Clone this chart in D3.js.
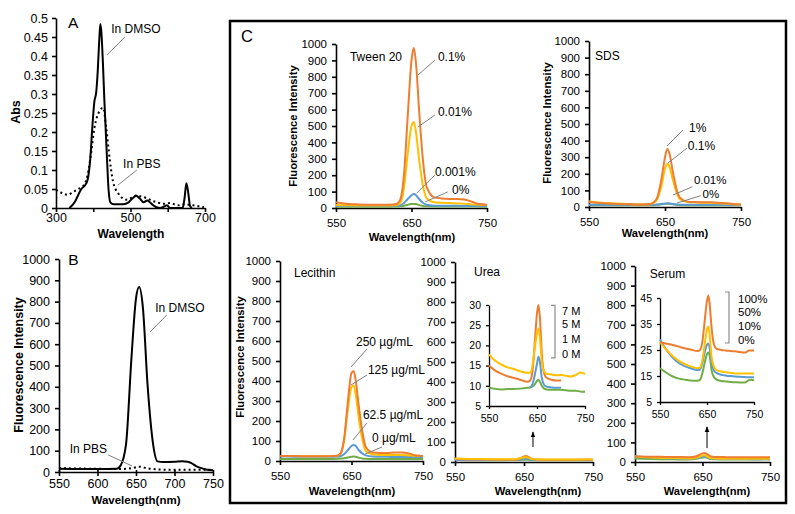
<!DOCTYPE html>
<html><head><meta charset="utf-8">
<script src="https://cdn.jsdelivr.net/npm/d3@7"></script>
<style>body{margin:0;background:#fff}svg{display:block}</style>
</head><body>
<script>
// ================= DATA =================
// Panel A – absorbance
const absWlDMSO = [336,350,360,368,378,385,392,398,403,408,412,416,419,422,426,430,436,441,446,455,480,495,505,515,525,535,545,552,560,570,580,590,598,606,640,645,650,655,660,665];
const absDMSO   = [0,0.015,0.035,0.05,0.06,0.075,0.13,0.22,0.28,0.305,0.36,0.44,0.484,0.46,0.38,0.28,0.15,0.05,0.015,0.01,0.01,0.015,0.025,0.032,0.025,0.015,0.02,0.015,0.008,0.002,0,0.004,0.007,0,0,0.025,0.065,0.04,0.005,0];
const absWlPBS  = [300,315,331,349,360,372,385,395,403,410,417,426,435,444,453,466,489,505,516,530,543,561,575,588,606,628,646,668,697];
const absPBS    = [0.048,0.04,0.035,0.044,0.05,0.057,0.088,0.15,0.21,0.24,0.255,0.264,0.21,0.13,0.07,0.04,0.022,0.028,0.033,0.03,0.026,0.018,0.014,0.011,0.013,0.007,0.01,0.007,0.002];
const absYTicks = [0,0.05,0.1,0.15,0.2,0.25,0.3,0.35,0.4,0.45,0.5];
const absXTicks = [300,400,500,600,700];
const absXLabels = [300,500,700];

// Panel B – fluorescence DMSO vs PBS
const flWlDMSO = [550,600,625,630,637,644,650,654,659,665,672,678,685,700,710,717,722,728,735,741,750];
const flDMSO   = [15,14,15,30,128,530,815,868,770,410,136,50,47,48,50,48,42,28,18,12,8];
const flWlPBS  = [550,600,630,645,654,665,680,700,750];
const flPBS    = [18,15,14,18,25,17,12,10,10];
const flYTicks = [0,100,200,300,400,500,600,700,800,900,1000];
const flBXTicks = [550,600,650,700,750];
const flCXTicks = [550,650,750];

// Panel C – shared wavelength grid for Tween 20, SDS, Lecithin
const wlC = [550,560,580,600,620,630,635,640,645,650,653,656,660,665,670,680,690,700,710,720,730,740,750];
const tween01   = [35,28,22,20,20,25,50,200,560,900,975,880,600,300,130,65,58,55,55,52,38,24,20];
const tween001  = [18,17,16,15,15,18,30,120,330,500,525,460,300,140,60,35,32,30,28,26,22,20,18];
const tween0001 = [12,12,12,12,12,13,16,30,55,78,85,78,55,32,20,14,13,13,13,12,12,12,12];
const tween0    = [8,8,8,8,8,9,10,14,20,24,25,24,18,12,10,9,9,9,9,9,9,8,8];
const sds1   = [30,25,20,17,15,18,28,60,160,300,350,320,220,110,55,32,30,28,28,26,22,18,15];
const sds01  = [35,28,22,18,15,17,24,50,120,230,260,240,170,90,45,30,28,26,25,23,20,17,15];
const sds001 = [14,14,13,13,13,13,14,15,18,20,22,21,18,15,14,13,13,13,13,13,12,12,12];
const sds0   = [10,10,10,10,10,10,11,13,16,19,20,19,16,13,11,10,10,10,10,10,10,10,10];
const lec250 = [25,25,24,24,24,26,40,120,300,440,450,400,280,150,70,42,40,40,42,42,38,28,25];
const lec125 = [25,25,24,24,24,26,38,110,260,370,378,330,220,110,50,32,30,30,30,30,28,26,25];
const lec625 = [22,22,21,21,21,22,25,35,55,75,80,75,55,38,28,22,21,21,20,20,20,20,20];
const lec0   = [10,10,10,10,10,11,12,14,18,21,22,21,17,13,11,10,10,10,10,10,10,10,10];

// Urea & Serum grid
const wlU = [550,560,575,590,600,615,630,635,640,645,650,653,656,660,665,670,680,690,695,700,710,720,730,740,745,750];
const urea7 = [15,14,13,12.3,12,11.5,11,11.2,13,20,28,30,27,18,13,12,11.5,11.3,11.3,11.3,11.2,11.1,11,11,11,11];
const urea5 = [17.8,16.5,15.3,14.5,14.2,13.6,13.2,13.2,14.5,19,23,24.2,22,16,13.5,13,12.8,12.6,12.6,12.7,12.5,12.3,12.6,13.3,13.2,12.9];
const urea1 = [9.5,9.5,9.5,9.5,9.5,9.5,9.5,9.6,10.2,12.5,15.5,17.2,16,12,10.2,9.8,9.6,9.5,9.5,9.5,9.5,9.5,9.5,9.5,9.5,9.5];
const urea0 = [9.5,9.3,9.1,9.2,9.2,9.3,9.5,9.6,9.8,10.3,11.2,11.5,11,10,9.3,9.1,9,9,9,9,8.9,8.8,8.8,8.6,8.5,8.5];
const serum100 = [28,27.6,27,26.3,25.8,25.2,24.6,25,28,36,44,46,42,33,27,25.5,25,24.8,24.7,24.6,24.5,24.2,24,24.8,24.8,24.8];
const serum50  = [28,25.8,23,20.8,19.8,18.7,18,18.2,21,27,33,34,30,22,18.5,17.3,16.7,16.4,16.3,16.2,16,16,16,16,16,16];
const serum10  = [29,26,22.5,20,19,18,17.3,17.5,20,24,27,27.5,25.5,20,17,16.2,15.5,15.2,15,15,14.8,14.7,14.6,14.5,14.5,14.5];
const serum0   = [18,16.7,15,14,13.7,13.3,13.2,13.5,16,20,23.5,24,22.5,17,14.5,13.6,13.1,12.9,12.8,12.7,12.6,12.5,12.5,13.5,13.6,13.2];
const ureaInsetYTicks = [5,10,15,20,25,30];
const serumInsetYTicks = [5,15,25,35,45];

const ureaLabels  = ["7 M","5 M","1 M","0 M"];
const serumLabels = ["100%","50%","10%","0%"];

// ================= DRAWING =================
const FONT = "'Liberation Sans', Arial, Helvetica, sans-serif";
const C = {orange:"#ED7D31", yellow:"#FFC000", blue:"#5B9BD5", green:"#70AD47"};
const svg = d3.select("body").append("svg").attr("width",795).attr("height",514)
  .style("font-family",FONT).style("background","#fff");
svg.append("rect").attr("width",795).attr("height",514).attr("fill","#fff");

svg.append("defs").append("marker").attr("id","arr").attr("viewBox","0 0 10 10")
  .attr("refX",9).attr("refY",5).attr("markerWidth",6).attr("markerHeight",6).attr("orient","auto")
  .append("path").attr("d","M0,1 L10,5 L0,9 Z").attr("fill","#000");

function drawPanel(p) {
  const x = d3.scaleLinear().domain(p.xDomain).range(p.xRange);
  const y = d3.scaleLinear().domain(p.yDomain).range(p.yRange);
  const g = svg.append("g");
  const ya = g.append("g").attr("transform",`translate(${p.xRange[0]},0)`)
    .call(d3.axisLeft(y).tickValues(p.yTicks).tickSizeInner(p.tick).tickSizeOuter(0)
      .tickPadding(p.ypad).tickFormat(d3.format("~g")));
  const xa = g.append("g").attr("transform",`translate(0,${p.yRange[0]})`)
    .call(d3.axisBottom(x).tickValues(p.xTicks).tickSizeInner(p.tick).tickSizeOuter(0)
      .tickFormat(d => p.xLabels.includes(d) ? d : ""));
  [ya,xa].forEach(a => {
    a.select(".domain").attr("stroke","#000").attr("stroke-width",p.aw);
    a.selectAll(".tick line").attr("stroke","#000").attr("stroke-width",p.aw);
    a.selectAll(".tick text").attr("font-size",p.fs).attr("fill","#000").attr("font-family",FONT);
  });
  xa.selectAll(".tick line").attr("y1",-(p.tickUp||0));
  xa.selectAll(".tick text").attr("dy",null).attr("y",p.xly);
  p.series.forEach(s => {
    const pts = s.x.map((v,i)=>[v,s.y[i]]).filter(d => !s.range || (d[0]>=s.range[0] && d[0]<=s.range[1]));
    g.append("path").datum(pts).attr("fill","none").attr("stroke",s.color)
      .attr("stroke-width",s.w).attr("stroke-dasharray",s.dash||null)
      .attr("stroke-linejoin","round")
      .attr("d", d3.line().x(d=>x(d[0])).y(d=>y(d[1])).curve(d3.curveMonotoneX));
  });
  return {x,y,g};
}
function text(x,y,s,size,opt={}) {
  const t = svg.append("text").attr("x",x).attr("y",y).text(s).attr("font-size",size)
    .attr("fill","#000").attr("font-family",FONT);
  if (opt.bold) t.attr("font-weight","bold");
  if (opt.anchor) t.attr("text-anchor",opt.anchor);
  if (opt.rot) t.attr("transform",`rotate(-90,${x},${y})`);
  return t;
}
function leader(P, a, b, col="#7f7f7f") {
  svg.append("line").attr("x1",P.x(a[0])).attr("y1",P.y(a[1])).attr("x2",P.x(b[0])).attr("y2",P.y(b[1]))
    .attr("stroke",col).attr("stroke-width",1);
}
function note(P, at, s, size=12) { text(P.x(at[0]), P.y(at[1]), s, size); }
function arrow(P, a, b) {
  svg.append("line").attr("x1",P.x(a[0])).attr("y1",P.y(a[1])).attr("x2",P.x(b[0])).attr("y2",P.y(b[1]))
    .attr("stroke","#000").attr("stroke-width",1).attr("marker-end","url(#arr)");
}
function bracket(P, xv, yTop, yBot, labels, lx, lys, size) {
  const X = P.x(xv);
  svg.append("path").attr("d",`M${X-4},${P.y(yTop)}H${X}V${P.y(yBot)}H${X-4}`)
    .attr("fill","none").attr("stroke","#8c8c8c").attr("stroke-width",1.2);
  labels.forEach((l,i) => text(P.x(lx), P.y(lys[i]), l, size));
}

// ---------- Panel A ----------
const PA = drawPanel({xDomain:[300,700], xRange:[56,205], yDomain:[0,0.5], yRange:[208,18],
  yTicks:absYTicks, xTicks:absXTicks, xLabels:absXLabels, tick:4, tickUp:0, ypad:4, xly:14, fs:12.5, aw:1.6,
  series:[
    {x:absWlPBS, y:absPBS, color:"#000", w:2, dash:"2,3"},
    {x:absWlDMSO, y:absDMSO, color:"#000", w:2}
  ]});
text(20,112,"Abs",12.5,{bold:true,anchor:"middle",rot:true});
text(131,238,"Wavelength",12,{bold:true,anchor:"middle"});
note(PA,[332,0.474],"A",15.5);
note(PA,[448,0.46],"In DMSO");
leader(PA,[437,0.403],[485,0.45]);
note(PA,[480,0.105],"In PBS");
leader(PA,[466,0.06],[517,0.1]);

// ---------- Panel B ----------
const PB = drawPanel({xDomain:[550,750], xRange:[59,213], yDomain:[0,1000], yRange:[472,259],
  yTicks:flYTicks, xTicks:flBXTicks, xLabels:flBXTicks, tick:4, tickUp:2, ypad:5, xly:16, fs:12.5, aw:1.6,
  series:[
    {x:flWlPBS, y:flPBS, color:"#000", w:2, dash:"2,3"},
    {x:flWlDMSO, y:flDMSO, color:"#000", w:2}
  ]});
text(23,365,"Fluorescence Intensity",12.5,{bold:true,anchor:"middle",rot:true});
text(136,504,"Wavelength(nm)",11.5,{bold:true,anchor:"middle"});
note(PB,[562,970],"B",15.5);
note(PB,[675,751],"In DMSO");
leader(PB,[668,657],[690,737]);
note(PB,[564,89],"In PBS");
leader(PB,[614,80],[645,28]);

// ---------- Panel C frame ----------
svg.append("rect").attr("x",230).attr("y",21).attr("width",556).attr("height",482)
  .attr("fill","none").attr("stroke","#000").attr("stroke-width",2.5);
text(241,42,"C",16.5);

const mainC = {xDomain:[550,750], yDomain:[0,1000], yTicks:flYTicks, xTicks:flCXTicks, xLabels:flCXTicks,
  tick:4, tickUp:0, ypad:5, xly:19, fs:11.5, aw:1.6};

// Tween 20
const PT = drawPanel({...mainC, xRange:[336,487], yRange:[208,44],
  series:[
    {x:wlC, y:tween0, color:C.green, w:2},
    {x:wlC, y:tween0001, color:C.blue, w:2},
    {x:wlC, y:tween001, color:C.yellow, w:2},
    {x:wlC, y:tween01, color:C.orange, w:2}
  ]});
text(297,126,"Fluorescence Intensity",11.2,{bold:true,anchor:"middle",rot:true});
text(412,241,"Wavelength(nm)",11.2,{bold:true,anchor:"middle"});
note(PT,[568.5,896],"Tween 20");
note(PT,[685,896],"0.1%");   leader(PT,[658.6,811],[681,902]);
note(PT,[685,561],"0.01%");  leader(PT,[658.6,494],[681,567]);
note(PT,[681,195],"0.001%"); leader(PT,[657,91],[681,201]);
note(PT,[703.6,85],"0%");    leader(PT,[668,37],[698,98]);

// SDS
const PS = drawPanel({...mainC, xRange:[589,741], yRange:[207,41],
  series:[
    {x:wlC, y:sds0, color:C.green, w:2},
    {x:wlC, y:sds001, color:C.blue, w:2},
    {x:wlC, y:sds01, color:C.yellow, w:2},
    {x:wlC, y:sds1, color:C.orange, w:2}
  ]});
text(551,123,"Fluorescence Intensity",11.2,{bold:true,anchor:"middle",rot:true});
text(665,237,"Wavelength(nm)",11.2,{bold:true,anchor:"middle"});
note(PS,[558,886],"SDS");
note(PS,[681.6,452],"1%");    leader(PS,[652.6,367],[673.7,464]);
note(PS,[680,343],"0.1%");    leader(PS,[654,265],[679,355]);
note(PS,[688,137],"0.01%",11.5);   leader(PS,[660.5,72],[686,122]);
note(PS,[699.5,55],"0%",11.5);     leader(PS,[665.8,24],[697,68]);

// Lecithin
const PL = drawPanel({...mainC, xRange:[280,423], yRange:[461,261],
  series:[
    {x:wlC, y:lec0, color:C.green, w:2},
    {x:wlC, y:lec625, color:C.blue, w:2},
    {x:wlC, y:lec125, color:C.yellow, w:2},
    {x:wlC, y:lec250, color:C.orange, w:2}
  ]});
text(244,357,"Fluorescence Intensity",11.2,{bold:true,anchor:"middle",rot:true});
text(352,495,"Wavelength(nm)",11.2,{bold:true,anchor:"middle"});
note(PL,[569.6,920],"Lecithin");
note(PL,[656.3,575],"250 µg/mL");  leader(PL,[649.3,470],[671.7,560]);
note(PL,[673,435],"125 µg/mL");    leader(PL,[649.3,380],[671.7,430]);
note(PL,[666,210],"62.5 µg/mL");   leader(PL,[652,105],[671.7,190]);
note(PL,[678.7,95],"0 µg/mL");     leader(PL,[669,35],[692.7,70]);

// Urea main
const PU = drawPanel({...mainC, xRange:[455,593], yRange:[462,262],
  series:[
    {x:wlU, y:urea0, color:C.green, w:2},
    {x:wlU, y:urea1, color:C.blue, w:2},
    {x:wlU, y:urea7, color:C.orange, w:2},
    {x:wlU, y:urea5, color:C.yellow, w:2}
  ]});
text(538,495,"Wavelength(nm)",11.2,{bold:true,anchor:"middle"});
note(PU,[577.5,930],"Urea");
arrow(PU,[663,75],[663,150]);
const inset = {xDomain:[550,750], xTicks:flCXTicks, xLabels:flCXTicks, tick:3, tickUp:0, ypad:5, xly:16, fs:10.5, aw:1.3};
const PUi = drawPanel({...inset, xRange:[489,585], yDomain:[5,30], yRange:[406,305], yTicks:ureaInsetYTicks,
  series:[
    {x:wlU, y:urea0, color:C.green, w:2},
    {x:wlU, y:urea1, color:C.blue, w:2, range:[635,700]},
    {x:wlU, y:urea7, color:C.orange, w:2, range:[550,700]},
    {x:wlU, y:urea5, color:C.yellow, w:2}
  ]});
bracket(PUi, 687.5, 29.9, 16.9, ureaLabels, 702, [27.5,24.2,20.7,17.0], 11);

// Serum main
const PSe = drawPanel({...mainC, xRange:[635,770], yRange:[462,266],
  series:[
    {x:wlU, y:serum0, color:C.green, w:2},
    {x:wlU, y:serum10, color:C.blue, w:2},
    {x:wlU, y:serum50, color:C.yellow, w:2},
    {x:wlU, y:serum100, color:C.orange, w:2}
  ]});
text(707,495,"Wavelength(nm)",11.2,{bold:true,anchor:"middle"});
note(PSe,[572,941],"Serum");
arrow(PSe,[656.7,71],[656.7,179]);
const PSi = drawPanel({...inset, xRange:[660,754], yDomain:[5,45], yRange:[402,298], yTicks:serumInsetYTicks,
  series:[
    {x:wlU, y:serum0, color:C.green, w:2},
    {x:wlU, y:serum10, color:C.blue, w:2},
    {x:wlU, y:serum50, color:C.yellow, w:2},
    {x:wlU, y:serum100, color:C.orange, w:2}
  ]});
bracket(PSi, 696.8, 47.3, 27.7, serumLabels, 716, [43.1,38.1,32.7,27.3], 11.5);
</script>
</body></html>
